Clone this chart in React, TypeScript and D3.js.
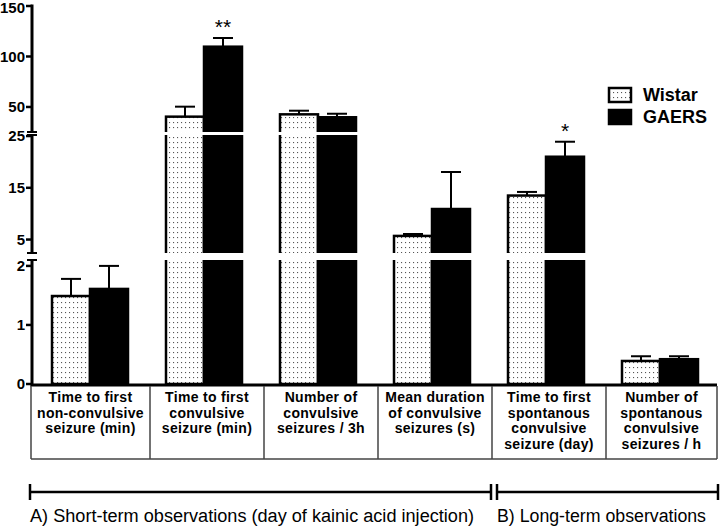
import React from 'react';
import * as d3 from 'd3';

const categories = ['c1', 'c2', 'c3', 'c4', 'c5', 'c6'];
const categoryLabels = [
  ['Time to first', 'non-convulsive', 'seizure (min)'],
  ['Time to first', 'convulsive', 'seizure (min)'],
  ['Number of', 'convulsive', 'seizures / 3h'],
  ['Mean duration', 'of convulsive', 'seizures (s)'],
  ['Time to first', 'spontanous', 'convulsive', 'seizure (day)'],
  ['Number of', 'spontanous', 'convulsive', 'seizures / h'],
];
const wistarMean = [1.49, 40.4, 42.7, 5.7, 13.5, 0.39];
const wistarSem = [0.29, 9.9, 3.6, 0.37, 0.7, 0.08];
const gaersMean = [1.61, 109.7, 39.8, 10.9, 21.0, 0.42];
const gaersSem = [0.39, 8.6, 3.5, 7.15, 2.9, 0.05];
const significance = ['', '**', '', '', '*', ''];
const yTicks = [0, 1, 2, 5, 15, 25, 50, 100, 150];
const segments: [number, number][] = [[0, 2.1], [2.4, 25.2], [25.21, 150]];
const seriesNames = ['Wistar', 'GAERS'];
const groupLabels = ['A) Short-term observations (day of kainic acid injection)', 'B) Long-term observations'];

const AXIS_X = 32;
const BAR_W = 38;

export default function App() {
  const y = d3.scaleLinear()
    .domain([0, 2.1, 2.4, 25.2, 25.21, 150])
    .range([384, 260, 253, 135, 132, 6]);
  const x = d3.scaleBand<string>().domain(categories).range([33, 717]).padding(0);
  const cx = (c: string) => (x(c) as number) + x.bandwidth() / 2;

  const boxEdges = categories.map((c, i) => (i === 0 ? 31 : (x(c) as number) + 3));
  boxEdges.push(717);

  const gaps = segments.slice(0, -1).map((s, i) => [y(segments[i + 1][0]), y(s[1])]);

  const bars: { x: number; mean: number; sem: number; kind: number }[] = [];
  categories.forEach((c, i) => {
    bars.push({ x: cx(c) - BAR_W, mean: wistarMean[i], sem: wistarSem[i], kind: 0 });
    bars.push({ x: cx(c), mean: gaersMean[i], sem: gaersSem[i], kind: 1 });
  });

  return (
    <svg width={720} height={529} style={{ position: 'absolute', left: 0, top: 0, background: '#fff' }}
      fontFamily="Liberation Sans, Arial, sans-serif">
      <defs>
        <pattern id="dots" width={4} height={5} patternUnits="userSpaceOnUse">
          <rect width={4} height={5} fill="#fff" />
          <rect x={1} y={2} width={1.1} height={1.1} fill="#555" />
        </pattern>
      </defs>

      {/* error bars */}
      {bars.map((b, i) => {
        const bx = b.x + BAR_W / 2;
        return (
          <g key={'e' + i} stroke="#000" strokeWidth={2}>
            <line x1={bx} x2={bx} y1={y(b.mean)} y2={y(b.mean + b.sem)} />
            <line x1={bx - 10} x2={bx + 10} y1={y(b.mean + b.sem)} y2={y(b.mean + b.sem)} />
          </g>
        );
      })}

      {/* bars */}
      {bars.map((b, i) => (
        <rect key={'b' + i} x={b.x} y={y(b.mean)} width={BAR_W} height={y(0) - y(b.mean)}
          fill={b.kind === 0 ? 'url(#dots)' : '#000'} stroke="#000" strokeWidth={2.5} />
      ))}

      {/* significance */}
      {categories.map((c, i) => significance[i] ? (
        <text key={'s' + i} x={cx(c) + BAR_W / 2} y={y(gaersMean[i] + gaersSem[i]) - 4}
          textAnchor="middle" fontSize={21} fill="#000">{significance[i]}</text>
      ) : null)}

      {/* axis break gaps */}
      {gaps.map((g, i) => (
        <rect key={'g' + i} x={20} y={g[0]} width={700} height={g[1] - g[0]} fill="#fff" />
      ))}

      {/* y axis segments */}
      {segments.map((s, i) => (
        <g key={'a' + i} stroke="#000">
          <line x1={AXIS_X} x2={AXIS_X} y1={y(s[0]) + (i === 0 ? 1.5 : 0)} y2={y(s[1]) - (i === 2 ? 1.5 : 0)} strokeWidth={3} />
          {i > 0 && <line x1={AXIS_X - 5} x2={AXIS_X + 5} y1={y(s[0])} y2={y(s[0])} strokeWidth={2} />}
          {i < 2 && <line x1={AXIS_X - 5} x2={AXIS_X + 5} y1={y(s[1])} y2={y(s[1])} strokeWidth={2} />}
        </g>
      ))}
      {yTicks.map((t) => (
        <g key={'t' + t}>
          <line x1={AXIS_X - 6} x2={AXIS_X} y1={y(t)} y2={y(t)} stroke="#000" strokeWidth={2.5} />
          <text x={25} y={Math.max(y(t), 8)} dy="0.36em" textAnchor="end" fontSize={15} fontWeight="bold">{t}</text>
        </g>
      ))}

      {/* x axis line and label boxes */}
      <line x1={AXIS_X - 1.5} x2={717} y1={385} y2={385} stroke="#000" strokeWidth={3} />
      {boxEdges.map((e, i) => (
        <line key={'v' + i} x1={e} x2={e} y1={386} y2={459} stroke="#444" strokeWidth={1.5} />
      ))}
      <line x1={31} x2={717} y1={459} y2={459} stroke="#444" strokeWidth={1.5} />
      {categories.map((c, i) => (
        <text key={'l' + i} x={(boxEdges[i] + boxEdges[i + 1]) / 2} y={402} textAnchor="middle"
          fontSize={14} fontWeight="bold" letterSpacing={0.3}>
          {categoryLabels[i].map((ln, j) => (
            <tspan key={j} x={(boxEdges[i] + boxEdges[i + 1]) / 2} y={402 + j * 15.5}>{ln}</tspan>
          ))}
        </text>
      ))}

      {/* legend */}
      {seriesNames.map((n, i) => (
        <g key={'lg' + i}>
          <rect x={609} y={88 + i * 22} width={22} height={14}
            fill={i === 0 ? 'url(#dots)' : '#000'} stroke="#000" strokeWidth={2.5} />
          <text x={643} y={101 + i * 22} fontSize={18} fontWeight="bold">{n}</text>
        </g>
      ))}

      {/* bottom brackets */}
      {[[30, 491], [497, 718]].map((r, i) => (
        <g key={'br' + i} stroke="#000" strokeWidth={2.5}>
          <line x1={r[0]} x2={r[1]} y1={492} y2={492} />
          <line x1={r[0]} x2={r[0]} y1={484} y2={500} />
          <line x1={r[1]} x2={r[1]} y1={484} y2={500} />
        </g>
      ))}
      <text x={30} y={522} fontSize={18} textLength={444} lengthAdjust="spacingAndGlyphs">{groupLabels[0]}</text>
      <text x={497} y={522} fontSize={18} textLength={209} lengthAdjust="spacingAndGlyphs">{groupLabels[1]}</text>
    </svg>
  );
}
